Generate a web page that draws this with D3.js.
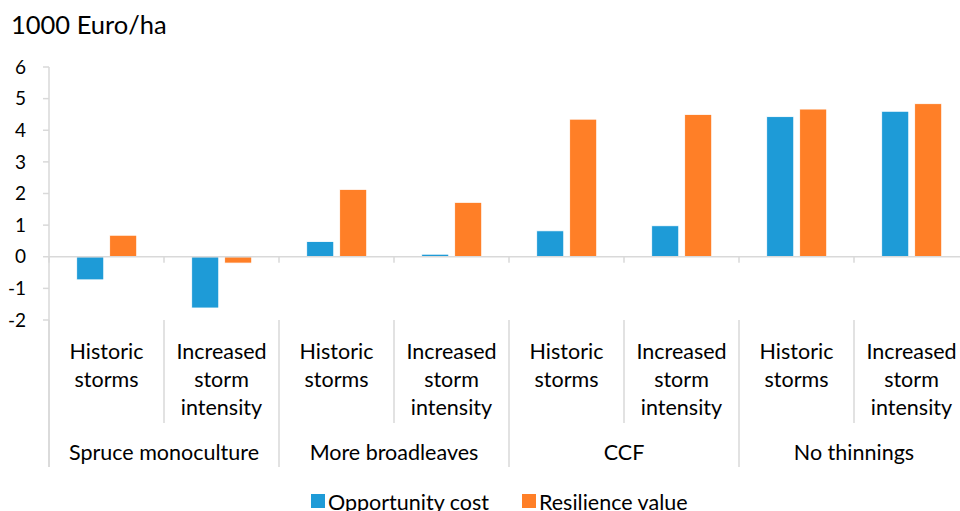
<!DOCTYPE html>
<html>
<head>
<meta charset="utf-8">
<script src="https://cdn.jsdelivr.net/npm/d3@7"></script>
<style>
  body { margin: 0; background: #fff; }
  svg { display: block; }
  text { font-family: Lato, "Open Sans", sans-serif; fill: #000; }
</style>
</head>
<body>
<div id="chart"></div>
<script>
// management strategies (outer group) and storm scenarios (inner)
var groups = ["Spruce monoculture", "More broadleaves", "CCF", "No thinnings"];
var scenarios = [["Historic", "storms"], ["Increased", "storm", "intensity"]];
var seriesNames = ["Opportunity cost", "Resilience value"];
var seriesColors = ["#1E9BD7", "#FF7F27"];

// values in 1000 Euro/ha, order: group x scenario
var opportunityCost = [-0.73, -1.62, 0.48, 0.08, 0.82, 0.98, 4.43, 4.60];
var resilienceValue = [0.68, -0.20, 2.13, 1.72, 4.35, 4.50, 4.67, 4.84];
var yTicks = [-2, -1, 0, 1, 2, 3, 4, 5, 6];

var width = 960, height = 511;
var plotLeft = 49, plotRight = 969, plotTop = 67, plotBottom = 320;
var labelSize = 21.5;

var svg = d3.select('#chart').append('svg')
    .attr('width', width).attr('height', height);

var cats = [];
groups.forEach(function(g, gi) {
    scenarios.forEach(function(s, si) {
        cats.push({ id: gi + '-' + si, group: g, gi: gi, si: si, lines: s });
    });
});

var x = d3.scaleBand().domain(cats.map(function(c) { return c.id; }))
    .range([plotLeft, plotRight]).padding(0);
var y = d3.scaleLinear().domain([-2, 6]).range([plotBottom, plotTop]);
var inner = d3.scaleBand().domain([0, 1])
    .range([27.7, 87.7]).paddingInner(0.18).paddingOuter(0);

var axisColor = '#D9D9D9';

// y axis line + ticks
svg.append('line')
    .attr('x1', plotLeft).attr('x2', plotLeft)
    .attr('y1', y(6)).attr('y2', 467)
    .attr('stroke', axisColor).attr('stroke-width', 1.5);

svg.selectAll('line.ytick').data(yTicks).enter().append('line')
    .attr('class', 'ytick')
    .attr('x1', plotLeft - 6).attr('x2', plotLeft)
    .attr('y1', function(d) { return y(d); })
    .attr('y2', function(d) { return y(d); })
    .attr('stroke', axisColor).attr('stroke-width', 1.5);

svg.selectAll('text.ylab').data(yTicks).enter().append('text')
    .attr('class', 'ylab')
    .attr('x', 26).attr('y', function(d) { return y(d); })
    .attr('dy', '0.35em')
    .attr('text-anchor', 'end')
    .attr('font-size', 19)
    .text(function(d) { return d; });

// title
svg.append('text')
    .attr('x', 11).attr('y', 34)
    .attr('font-size', 25.5)
    .text('1000 Euro/ha');

// bars
var rows = cats.map(function(c, i) {
    return { cat: c, vals: [opportunityCost[i], resilienceValue[i]] };
});

var catG = svg.selectAll('g.cat').data(rows).enter().append('g')
    .attr('class', 'cat')
    .attr('transform', function(d) { return 'translate(' + x(d.cat.id) + ',0)'; });

catG.selectAll('rect').data(function(d) { return d.vals; }).enter().append('rect')
    .attr('x', function(d, i) { return inner(i); })
    .attr('width', inner.bandwidth())
    .attr('y', function(d) { return Math.min(y(d), y(0)); })
    .attr('height', function(d) { return Math.abs(y(d) - y(0)); })
    .attr('fill', function(d, i) { return seriesColors[i]; })
    .attr('stroke', '#fff').attr('stroke-width', 0.8);

// zero baseline
svg.append('line')
    .attr('x1', plotLeft).attr('x2', width)
    .attr('y1', y(0)).attr('y2', y(0))
    .attr('stroke', axisColor).attr('stroke-width', 1.5);

// category ticks on baseline
var bounds = cats.map(function(c) { return x(c.id); }).concat([plotRight]);
svg.selectAll('line.xtick').data(bounds).enter().append('line')
    .attr('class', 'xtick')
    .attr('x1', function(d) { return d; }).attr('x2', function(d) { return d; })
    .attr('y1', y(0)).attr('y2', y(0) + 6)
    .attr('stroke', axisColor).attr('stroke-width', 1.5);

// separators in the label area
svg.selectAll('line.sep').data(bounds).enter().append('line')
    .attr('class', 'sep')
    .attr('x1', function(d) { return d; }).attr('x2', function(d) { return d; })
    .attr('y1', plotBottom)
    .attr('y2', function(d, i) { return i % 2 === 0 ? 467 : 423; })
    .attr('stroke', axisColor).attr('stroke-width', 1.5);

// scenario labels
var lab = svg.selectAll('text.scen').data(cats).enter().append('text')
    .attr('class', 'scen')
    .attr('text-anchor', 'middle')
    .attr('font-size', labelSize);
lab.selectAll('tspan').data(function(d) {
        return d.lines.map(function(l) { return { l: l, cx: x(d.id) + x.bandwidth() / 2 }; });
    }).enter().append('tspan')
    .attr('x', function(d) { return d.cx; })
    .attr('y', function(d, i) { return 351 + i * 28.3; })
    .attr('dy', '0.35em')
    .text(function(d) { return d.l; });

// group labels
svg.selectAll('text.grp').data(groups).enter().append('text')
    .attr('class', 'grp')
    .attr('text-anchor', 'middle')
    .attr('font-size', labelSize)
    .attr('x', function(d, i) { return plotLeft + (i + 0.5) * 2 * x.bandwidth(); })
    .attr('y', 452).attr('dy', '0.35em')
    .text(function(d) { return d; });

// legend
var legX = [311, 522];
var leg = svg.selectAll('g.leg').data(seriesNames).enter().append('g')
    .attr('class', 'leg')
    .attr('transform', function(d, i) { return 'translate(' + legX[i] + ',0)'; });
leg.append('rect')
    .attr('x', 0).attr('y', 494).attr('width', 14).attr('height', 14)
    .attr('fill', function(d, i) { return seriesColors[i]; });
leg.append('text')
    .attr('x', 17).attr('y', 502).attr('dy', '0.35em')
    .attr('font-size', labelSize)
    .text(function(d) { return d; });
</script>
</body>
</html>
